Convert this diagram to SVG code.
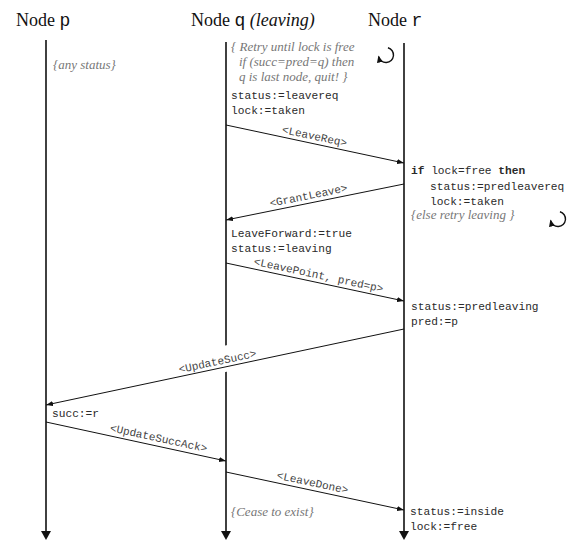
<svg xmlns="http://www.w3.org/2000/svg" width="577" height="542" viewBox="0 0 577 542">
<style>
.hdr{font-family:"Liberation Serif","DejaVu Serif",serif;font-size:18px;fill:#111}
.hm{font-family:"Liberation Mono","DejaVu Sans Mono",monospace;font-size:18px}
.hi{font-style:italic}
.code{font-family:"Liberation Mono","DejaVu Sans Mono",monospace;font-size:11.2px;fill:#2a2a2a}
.b{font-weight:bold}
.cmt{font-family:"Liberation Serif","DejaVu Serif",serif;font-style:italic;font-size:13px;fill:#777}
.lbl{font-family:"Liberation Mono","DejaVu Sans Mono",monospace;font-size:11px;fill:#444;text-anchor:middle}
.life{stroke:#111;stroke-width:1.6;fill:none}
.msg{stroke:#111;stroke-width:1;fill:none}
.loop{stroke:#111;stroke-width:1.4;fill:none}
</style>
<defs>
<marker id="ah" markerUnits="userSpaceOnUse" markerWidth="8" markerHeight="6" refX="7" refY="2.5" orient="auto"><path d="M0,0 L7,2.5 L0,5 z" fill="#111"/></marker>
<marker id="lh" markerUnits="userSpaceOnUse" markerWidth="10" markerHeight="10" refX="1" refY="5" orient="auto"><path d="M0,0 L9,5 L0,10 z" fill="#111"/></marker>
<marker id="ch" markerUnits="userSpaceOnUse" markerWidth="8" markerHeight="7" refX="6" refY="3" orient="auto"><path d="M0,0 L7,3 L0,6 z" fill="#111"/></marker>
</defs>

<g id="node-p">
<text class="hdr" x="16" y="26">Node <tspan class="hm">p</tspan></text>
<path class="life" d="M46,40 V532" marker-end="url(#lh)"/>
<text class="cmt" x="53" y="69">{any status}</text>
<text class="code" x="52" y="417">succ:=r</text>
</g>

<g id="node-q">
<text class="hdr" x="191" y="26">Node <tspan class="hm">q</tspan> <tspan class="hi">(leaving)</tspan></text>
<path class="life" d="M226,42 V532" marker-end="url(#lh)"/>
<text class="cmt" x="231" y="51">{ Retry until lock is free</text>
<text class="cmt" x="239" y="66">if (succ=pred=q) then</text>
<text class="cmt" x="239" y="81">q is last node, quit!  }</text>
<path class="loop" d="M387.94,47.76 A7.5,7.5 0 1 1 378.66,56.56" marker-end="url(#ch)"/>
<text class="code" x="231" y="99">status:=leavereq</text>
<text class="code" x="231" y="114">lock:=taken</text>
<text class="code" x="231" y="237">LeaveForward:=true</text>
<text class="code" x="231" y="252">status:=leaving</text>
<text class="cmt" x="231" y="516">{Cease to exist}</text>
</g>

<g id="node-r">
<text class="hdr" x="368" y="26">Node <tspan class="hm">r</tspan></text>
<path class="life" d="M404,43 V532" marker-end="url(#lh)"/>
<text class="code" x="411" y="174"><tspan class="b">if</tspan> lock=free <tspan class="b">then</tspan></text>
<text class="code" x="430" y="190">status:=predleavereq</text>
<text class="code" x="430" y="205">lock:=taken</text>
<text class="cmt" x="411" y="219">{else retry leaving }</text>
<path class="loop" d="M559.94,211.76 A7.5,7.5 0 1 1 550.66,220.56" marker-end="url(#ch)"/>
<text class="code" x="411" y="310">status:=predleaving</text>
<text class="code" x="411" y="325">pred:=p</text>
<text class="code" x="410" y="515">status:=inside</text>
<text class="code" x="410" y="530">lock:=free</text>
</g>

<g id="connectors">
<path class="msg" d="M226,125 L404,163" marker-end="url(#ah)"/>
<text class="lbl" transform="translate(313,143.6) rotate(12.05)" y="-4">&lt;LeaveReq&gt;</text>

<path class="msg" d="M404,184 L226,220" marker-end="url(#ah)"/>
<text class="lbl" transform="translate(310,203) rotate(-11.4)" y="-4">&lt;GrantLeave&gt;</text>

<path class="msg" d="M226,263 L404,301" marker-end="url(#ah)"/>
<text class="lbl" transform="translate(317,282.4) rotate(12.05)" y="-4">&lt;LeavePoint, pred=p&gt;</text>

<rect x="-46" y="-21" width="92" height="26" fill="#fff" transform="translate(219,368.3) rotate(-12)"/>
<path class="msg" d="M404,329 L46,405" marker-end="url(#ah)"/>
<text class="lbl" transform="translate(219,368.3) rotate(-12)" y="-3.5">&lt;UpdateSucc&gt;</text>

<path class="msg" d="M46,422 L226,461" marker-end="url(#ah)"/>
<text class="lbl" transform="translate(157,446) rotate(12.2)" y="-4.5">&lt;UpdateSuccAck&gt;</text>

<path class="msg" d="M226,472 L404,510" marker-end="url(#ah)"/>
<text class="lbl" transform="translate(311,490) rotate(12.05)" y="-4">&lt;LeaveDone&gt;</text>
</g>
</svg>
